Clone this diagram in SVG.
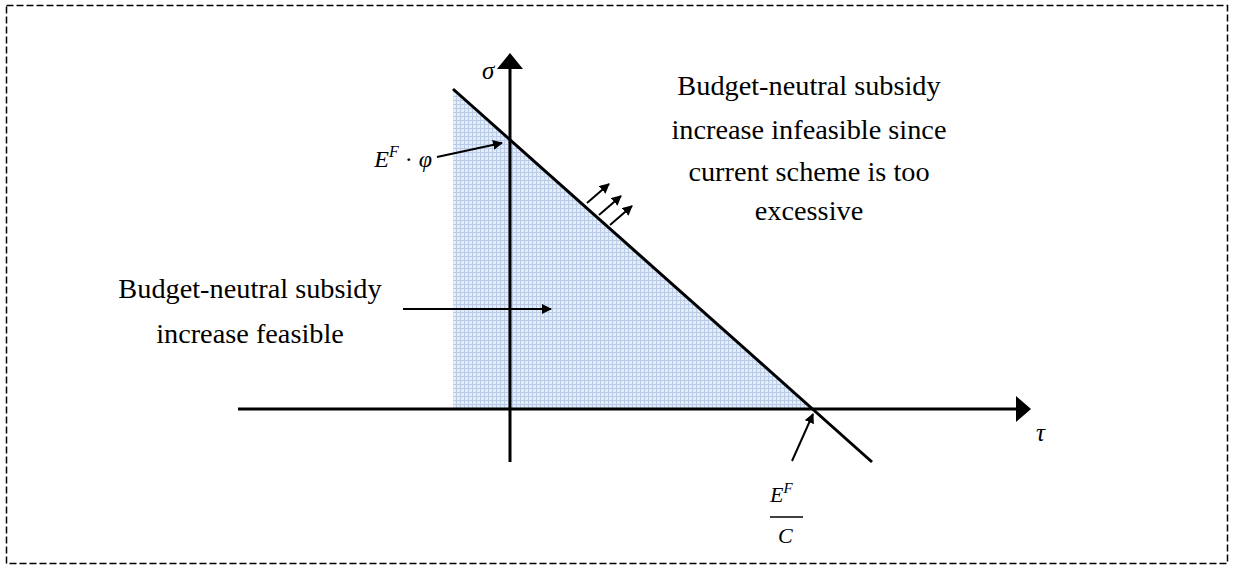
<svg xmlns="http://www.w3.org/2000/svg" width="1233" height="567" viewBox="0 0 1233 567">
<style>
.txt{font-family:"Liberation Serif","Times New Roman",serif;font-size:28.3px;fill:#000;text-anchor:middle}
.math{font-family:"Liberation Serif","Times New Roman",serif;font-style:italic;fill:#000}
.thick{stroke:#000;stroke-width:3;fill:none}
.thin{stroke:#000;stroke-width:2;fill:none}
</style>
<defs>
<pattern id="grid" width="4" height="4" patternUnits="userSpaceOnUse">
<rect width="4" height="4" fill="#e4ecf7"/>
<path d="M0 0.5H4M0.5 0V4" stroke="#b9cbe6" stroke-width="1"/>
</pattern>
<marker id="ah" viewBox="0 0 10 10" refX="9" refY="5" markerWidth="5" markerHeight="5" orient="auto" markerUnits="strokeWidth">
<path d="M0 0L10 5L0 10Z" fill="#000"/>
</marker>
</defs>
<rect x="6.5" y="5.5" width="1221" height="558" fill="#fff" stroke="#000" stroke-width="1.5" stroke-dasharray="7 3"/>
<g id="region">
<polygon points="453,89 453,409 812,409" fill="url(#grid)"/>
</g>
<g id="axes">
<line class="thick" x1="510" y1="462" x2="510" y2="66"/>
<polygon points="510,53 497,69 523,69" fill="#000"/>
<line class="thick" x1="238" y1="409" x2="1018" y2="409"/>
<polygon points="1031,409 1016,396 1016,422" fill="#000"/>
<line class="thick" x1="453" y1="89" x2="872" y2="462"/>
</g>
<g id="connectors">
<line class="thin" x1="403" y1="309" x2="551" y2="309" stroke-width="1.5" marker-end="url(#ah)"/>
<line class="thin" x1="437" y1="157" x2="502" y2="143" marker-end="url(#ah)"/>
<line class="thin" x1="792" y1="461" x2="813" y2="414" marker-end="url(#ah)"/>
<line class="thin" x1="587" y1="203" x2="609" y2="184" marker-end="url(#ah)"/>
<line class="thin" x1="599" y1="215" x2="621" y2="196" marker-end="url(#ah)"/>
<line class="thin" x1="610" y1="225" x2="632" y2="206" marker-end="url(#ah)"/>
</g>
<g id="label-sigma"><text class="math" x="482" y="79" font-size="25">σ</text></g>
<g id="label-tau"><text class="math" x="1036" y="441" font-size="25">τ</text></g>
<g id="label-efphi"><text class="math" x="432" y="167" font-size="24" text-anchor="end">E<tspan font-size="16" dy="-10">F</tspan><tspan dy="10" font-style="normal"> · </tspan>φ</text></g>
<g id="label-efc">
<text class="math" x="770" y="502" font-size="22">E<tspan font-size="15" dy="-9">F</tspan></text>
<line x1="770" y1="517" x2="803" y2="517" stroke="#000" stroke-width="1.5"/>
<text class="math" x="778" y="543" font-size="22">C</text>
</g>
<g id="text-infeasible">
<text class="txt" x="809" y="95">Budget-neutral subsidy</text>
<text class="txt" x="809" y="139">increase infeasible since</text>
<text class="txt" x="809" y="181">current scheme is too</text>
<text class="txt" x="809" y="220">excessive</text>
</g>
<g id="text-feasible">
<text class="txt" x="250" y="298">Budget-neutral subsidy</text>
<text class="txt" x="250" y="343">increase feasible</text>
</g>
</svg>
